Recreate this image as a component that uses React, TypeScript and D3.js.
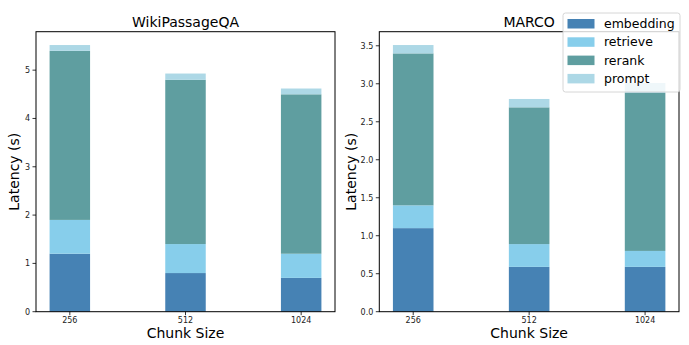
import React from "react";
import * as d3 from "d3";

const categories = ["256", "512", "1024"];
const seriesNames = ["embedding", "retrieve", "rerank", "prompt"];
const colors = ["#4682B4", "#87CEEB", "#5F9EA0", "#ADD8E6"];

const wikiEmbedding = [1.2, 0.8, 0.7];
const wikiRetrieve = [0.7, 0.6, 0.5];
const wikiRerank = [3.5, 3.4, 3.3];
const wikiPrompt = [0.12, 0.13, 0.12];

const marcoEmbedding = [1.1, 0.59, 0.59];
const marcoRetrieve = [0.3, 0.3, 0.21];
const marcoRerank = [2.0, 1.8, 2.08];
const marcoPrompt = [0.11, 0.11, 0.13];

const wikiTicks = [0, 1, 2, 3, 4, 5];
const marcoTicks = [0, 0.5, 1.0, 1.5, 2.0, 2.5, 3.0, 3.5];

const FONT = "DejaVu Sans, sans-serif";

type PanelProps = {
  title: string;
  series: number[][];
  ticks: number[];
  tickFmt: (v: number) => string;
  left: number;
  right: number;
  ylabelX: number;
};

function Panel({ title, series, ticks, tickFmt, left, right, ylabelX }: PanelProps) {
  const top = 31.7;
  const bottom = 311.7;
  const barW = 0.35;
  const totals = categories.map((_, i) => series.reduce((s, arr) => s + arr[i], 0));
  const maxT = d3.max(totals) as number;
  const y = d3.scaleLinear().domain([0, maxT * 1.05]).range([bottom, top]);
  const x0 = -barW / 2, x1 = categories.length - 1 + barW / 2;
  const pad = (x1 - x0) * 0.05;
  const x = d3.scaleLinear().domain([x0 - pad, x1 + pad]).range([left, right]);
  const stack = d3.stack<number>().keys(seriesNames.map((_, k) => String(k))).value((i, key) => series[+key][i]);
  const stacked = stack(categories.map((_, i) => i));
  const cx = (left + right) / 2;
  return (
    <g>
      {stacked.map((layer, k) => (
        <g key={k} fill={colors[k]}>
          {layer.map((d, i) => (
            <rect key={i} x={x(i - barW / 2)} width={x(i + barW / 2) - x(i - barW / 2)} y={y(d[1])} height={y(d[0]) - y(d[1])} />
          ))}
        </g>
      ))}
      <rect x={left} y={top} width={right - left} height={bottom - top} fill="none" stroke="#000" strokeWidth={1} />
      {ticks.map((t) => (
        <g key={t}>
          <line x1={left - 3.5} x2={left} y1={y(t)} y2={y(t)} stroke="#000" strokeWidth={0.8} />
          <text x={left - 6} y={y(t)} dy="0.35em" textAnchor="end" fontSize={8} fontFamily={FONT} fill="#222">{tickFmt(t)}</text>
        </g>
      ))}
      {categories.map((c, i) => (
        <g key={c}>
          <line x1={x(i)} x2={x(i)} y1={bottom} y2={bottom + 3.5} stroke="#000" strokeWidth={0.8} />
          <text x={x(i)} y={bottom + 11.3} textAnchor="middle" fontSize={8} fontFamily={FONT} fill="#222">{c}</text>
        </g>
      ))}
      <text x={cx} y={26.5} textAnchor="middle" fontSize={14} fontFamily={FONT}>{title}</text>
      <text x={cx} y={337.5} textAnchor="middle" fontSize={14} fontFamily={FONT}>Chunk Size</text>
      <text transform={`translate(${ylabelX},${(top + bottom) / 2}) rotate(-90)`} textAnchor="middle" fontSize={14} fontFamily={FONT}>Latency (s)</text>
    </g>
  );
}

export default function App() {
  const lx = 563, ly = 13, lw = 117, lh = 79;
  return (
    <svg width={689} height={345} style={{ position: "absolute", left: 0, top: 0 }}>
      <rect width={689} height={345} fill="#fff" />
      <Panel title="WikiPassageQA" series={[wikiEmbedding, wikiRetrieve, wikiRerank, wikiPrompt]} ticks={wikiTicks} tickFmt={(v) => d3.format("d")(v)} left={36} right={335} ylabelX={19} />
      <Panel title="MARCO" series={[marcoEmbedding, marcoRetrieve, marcoRerank, marcoPrompt]} ticks={marcoTicks} tickFmt={(v) => d3.format(".1f")(v)} left={379.3} right={679} ylabelX={355.5} />
      <g>
        <rect x={lx} y={ly} width={lw} height={lh} rx={2.5} fill="#fff" fillOpacity={0.8} stroke="#ccc" strokeWidth={0.8} />
        {seriesNames.map((n, k) => (
          <g key={n}>
            <rect x={567.5} y={ly + 6 + k * 18.3} width={27} height={9.5} fill={colors[k]} />
            <text x={604} y={ly + 6 + k * 18.3 + 4.75} dy="0.35em" fontSize={12.5} fontFamily={FONT}>{n}</text>
          </g>
        ))}
      </g>
    </svg>
  );
}
